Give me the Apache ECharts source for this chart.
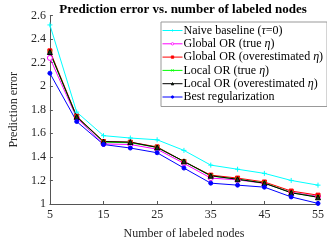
<!DOCTYPE html>
<html><head><meta charset="utf-8">
<script src="https://cdn.jsdelivr.net/npm/echarts@6/dist/echarts.min.js"></script>
<style>html,body{margin:0;padding:0;background:#fff}#c{width:327px;height:245px}</style>
</head><body><div id="c"></div>
<script>
const categories = ['5','10','15','20','25','30','35','40','45','50','55'];
const naiveBaseline = [2.52, 1.78, 1.58, 1.56, 1.545, 1.455, 1.33, 1.295, 1.26, 1.20, 1.16];
const globalTrue = [2.24, 1.73, 1.51, 1.505, 1.465, 1.345, 1.22, 1.205, 1.175, 1.10, 1.065];
const globalOver = [2.30, 1.745, 1.53, 1.525, 1.485, 1.36, 1.245, 1.22, 1.187, 1.11, 1.075];
const localTrue = [2.285, 1.74, 1.525, 1.52, 1.48, 1.36, 1.238, 1.21, 1.178, 1.097, 1.058];
const localOver = [2.29, 1.74, 1.53, 1.525, 1.48, 1.362, 1.24, 1.21, 1.177, 1.095, 1.057];
const bestReg = [2.11, 1.70, 1.505, 1.475, 1.435, 1.305, 1.177, 1.16, 1.143, 1.06, 1.005];
const seriesNames = ['Naive baseline (τ=0)','Global OR (true η)','Global OR (overestimated η)','Local OR (true η)','Local OR (overestimated η)','Best regularization'];

const serif = "'Liberation Serif','DejaVu Serif',serif";
function mk(name, data, color, symbol, size, fill) {
  return {
    name, type: 'line', data, symbol, symbolSize: size,
    showAllSymbol: true,
    lineStyle: {color, width: 1},
    itemStyle: {color: fill, borderColor: color, borderWidth: 1},
    emphasis: {disabled: true}, animation: false
  };
}
const chart = echarts.init(document.getElementById('c'), null, {renderer: 'canvas'});
chart.setOption({
  animation: false,
  title: {text: 'Prediction error vs. number of labeled nodes', left: 178, textAlign: 'center', top: -2,
    textStyle: {fontFamily: serif, fontWeight: 'bold', fontSize: 13, color: '#000'}},
  grid: {left: 34, right: 7, top: 15.5, bottom: 34.3, containLabel: false},
  xAxis: {type: 'category', data: categories, boundaryGap: false,
    name: 'Number of labeled nodes', nameLocation: 'middle', nameGap: 24,
    nameTextStyle: {fontFamily: serif, fontSize: 12, color: '#262626'},
    axisLine: {lineStyle: {color: '#555', width: 1}},
    axisTick: {inside: true, length: 3, interval: 1, lineStyle: {color: '#555'}},
    axisLabel: {interval: 1, fontFamily: serif, fontSize: 12, color: '#262626', margin: 5},
    splitLine: {show: false}},
  yAxis: {type: 'value', min: 1, max: 2.6, interval: 0.2,
    name: 'Prediction error', nameLocation: 'middle', nameGap: 24,
    nameTextStyle: {fontFamily: serif, fontSize: 12, color: '#262626'},
    axisLine: {show: true, lineStyle: {color: '#555', width: 1}},
    axisTick: {show: true, inside: true, length: 3, lineStyle: {color: '#555'}},
    axisLabel: {fontFamily: serif, fontSize: 12, color: '#262626', margin: 4,
      formatter: v => String(Math.round(v * 10) / 10)},
    splitLine: {show: false}},
  legend: {orient: 'vertical', left: 161, top: 22, padding: [2, 4, 3, 1],
    borderColor: '#999', borderWidth: 1, backgroundColor: '#fff',
    itemWidth: 20, itemHeight: 3, itemGap: 0.3,
    lineStyle: {width: 1},
    itemStyle: {borderWidth: 0.8},
    data: seriesNames,
    formatter: function (n) {
      return n.replace('τ', '{i|τ}').replace('η', '{i|η}');
    },
    textStyle: {fontFamily: serif, fontSize: 12, color: '#000', lineHeight: 13, padding: [0,0,0,-4],
      rich: {i: {fontFamily: serif, fontStyle: 'italic', fontSize: 12, lineHeight: 13}}}},
  series: [
    mk(seriesNames[0], naiveBaseline, '#00ffff', 'path://M0,-1L0,1M-1,0L1,0', 5, '#00ffff'),
    mk(seriesNames[1], globalTrue, '#ff00ff', 'circle', 5, '#fff'),
    mk(seriesNames[2], globalOver, '#ff0000', 'rect', 4, '#ff0000'),
    mk(seriesNames[3], localTrue, '#00ff00', 'path://M-1,-1L1,1M-1,1L1,-1', 4, '#00ff00'),
    mk(seriesNames[4], localOver, '#000000', 'triangle', 5, '#1b3d1b'),
    mk(seriesNames[5], bestReg, '#0000ff', 'circle', 4, '#0000ff')
  ]
});
</script></body></html>
